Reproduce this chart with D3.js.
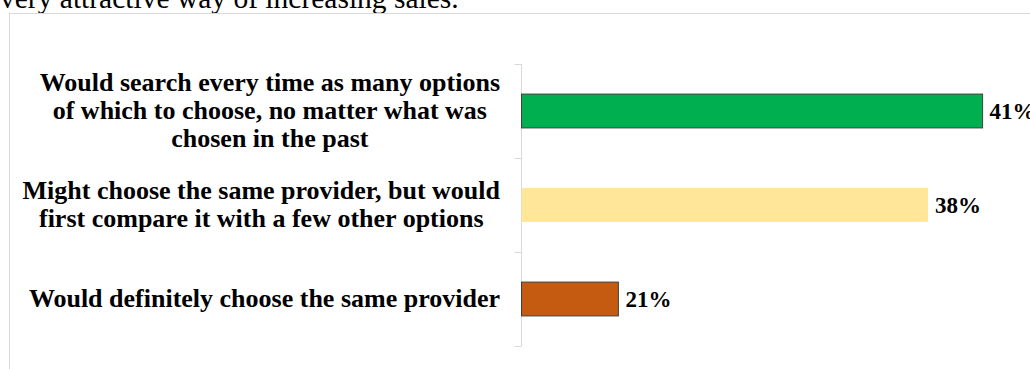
<!DOCTYPE html>
<html lang="en">
<head>
    <meta charset="UTF-8">
    <title>Provider choice</title>
    <style>
        body {
            margin: 0;
            background-color: #ffffff;
        }
        svg {
            display: block;
        }
        .cat {
            font-family: "Liberation Serif", "Times New Roman", serif;
            font-weight: bold;
            font-size: 26px;
            fill: #000;
        }
        .val {
            font-family: "Liberation Serif", "Times New Roman", serif;
            font-weight: bold;
            font-size: 23px;
            fill: #000;
        }
    </style>
</head>
<body>
<script src="https://cdnjs.cloudflare.com/ajax/libs/d3/7.8.5/d3.min.js"></script>
<script>
    // data
    var categories = [
        "Would search every time as many options of which to choose, no matter what was chosen in the past",
        "Might choose the same provider, but would first compare it with a few other options",
        "Would definitely choose the same provider"
    ];
    var categoryLines = [
        ["Would search every time as many options", "of which to choose, no matter what was", "chosen in the past"],
        ["Might choose the same provider, but would", "first compare it with a few other options"],
        ["Would definitely choose the same provider"]
    ];
    var values = [41, 38, 21];
    var barColors = ["#00b050", "#ffe699", "#c55a11"];
    var barStrokes = ["#404040", "none", "#404040"];
    var topText = "very attractive way of increasing sales.";

    var width = 1030, height = 369;

    var svg = d3.select("body").append("svg")
        .attr("width", width)
        .attr("height", height);

    // leftover line of the surrounding document, cut by the top edge
    svg.append("text")
        .attr("x", 0)
        .attr("y", 8)
        .attr("font-family", "'Liberation Serif', 'Times New Roman', serif")
        .attr("font-size", 29.5)
        .attr("fill", "#000")
        .text(topText);

    // chart frame
    svg.append("rect")
        .attr("x", 9.5)
        .attr("y", 13.5)
        .attr("width", 1040)
        .attr("height", 400)
        .attr("fill", "none")
        .attr("stroke", "#d9d9d9")
        .attr("stroke-width", 1);

    var axisX = 521.5;

    // the value axis does not start at zero in the original
    var x = d3.scaleLinear()
        .domain([15.68, 41])
        .range([axisX, 982.6]);

    var y = d3.scaleBand()
        .domain(d3.range(categories.length))
        .range([64, 346])
        .paddingInner(0.64)
        .paddingOuter(0.32);

    // category axis line and ticks between categories
    var tickYs = d3.range(categories.length + 1).map(function(i) { return 64 + i * y.step(); });

    svg.append("line")
        .attr("x1", axisX).attr("x2", axisX)
        .attr("y1", tickYs[0]).attr("y2", tickYs[tickYs.length - 1])
        .attr("stroke", "#d9d9d9")
        .attr("stroke-width", 1);

    svg.selectAll(".tick")
        .data(tickYs)
        .enter().append("line")
        .attr("class", "tick")
        .attr("x1", axisX - 7).attr("x2", axisX)
        .attr("y1", function(d) { return Math.round(d) + 0.5; })
        .attr("y2", function(d) { return Math.round(d) + 0.5; })
        .attr("stroke", "#d9d9d9")
        .attr("stroke-width", 1);

    // bars
    svg.selectAll(".bar")
        .data(values)
        .enter().append("rect")
        .attr("class", "bar")
        .attr("x", x(x.domain()[0]))
        .attr("y", function(d, i) { return y(i); })
        .attr("width", function(d) { return x(d) - x(x.domain()[0]); })
        .attr("height", y.bandwidth())
        .attr("fill", function(d, i) { return barColors[i]; })
        .attr("stroke", function(d, i) { return barStrokes[i]; })
        .attr("stroke-width", 1);

    // value labels
    svg.selectAll(".val")
        .data(values)
        .enter().append("text")
        .attr("class", "val")
        .attr("x", function(d) { return x(d) + 7; })
        .attr("y", function(d, i) { return y(i) + y.bandwidth() / 2; })
        .attr("dy", "0.35em")
        .text(function(d) { return d + "%"; });

    // category labels: block right aligned, lines centred inside the block
    var lineH = 28;
    var labelRight = 500;
    categoryLines.forEach(function(lines, i) {
        var g = svg.append("g");
        var cy = y(i) + y.bandwidth() / 2;
        var texts = g.selectAll("text")
            .data(lines)
            .enter().append("text")
            .attr("class", "cat")
            .attr("text-anchor", "middle")
            .attr("y", function(d, j) { return cy + (j - (lines.length - 1) / 2) * lineH; })
            .attr("dy", "0.3em")
            .text(function(d) { return d; });
        var maxW = 0;
        texts.each(function() { maxW = Math.max(maxW, this.getComputedTextLength()); });
        texts.attr("x", labelRight - maxW / 2);
    });
</script>
</body>
</html>
